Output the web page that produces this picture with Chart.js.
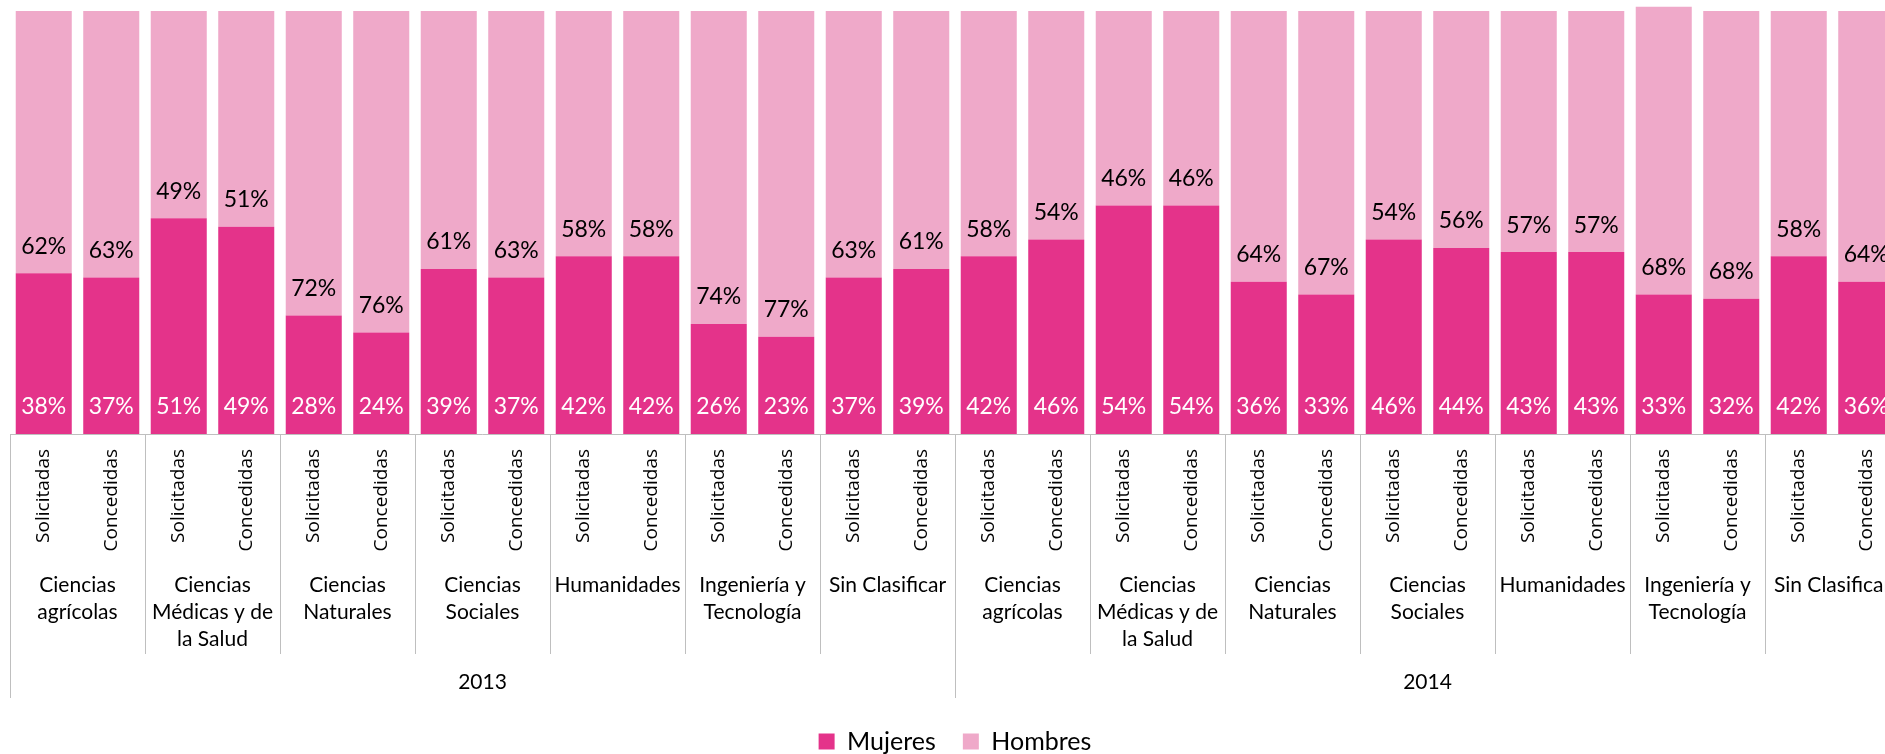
<!DOCTYPE html>
<html>
<head>
<meta charset="utf-8">
<script src="https://cdn.jsdelivr.net/npm/chart.js@4.4.1/dist/chart.umd.min.js"></script>
<style>
  html, body { margin: 0; padding: 0; background: #fff; overflow: hidden; }
  #wrap { position: relative; width: 1912px; height: 754px; }
</style>
</head>
<body>
<div id="wrap"><canvas id="becas"></canvas></div>
<script>
const years = ['2013', '2014'];
const areas = [
  ['Ciencias', 'agrícolas'],
  ['Ciencias', 'Médicas y de', 'la Salud'],
  ['Ciencias', 'Naturales'],
  ['Ciencias', 'Sociales'],
  ['Humanidades'],
  ['Ingeniería y', 'Tecnología'],
  ['Sin Clasificar']
];
const tipos = ['Solicitadas', 'Concedidas'];

// % por año, área y tipo (Solicitadas, Concedidas)
const mujeres = [38, 37, 51, 49, 28, 24, 39, 37, 42, 42, 26, 23, 37, 39,
                 42, 46, 54, 54, 36, 33, 46, 44, 43, 43, 33, 32, 42, 36];
const hombres = [62, 63, 49, 51, 72, 76, 61, 63, 58, 58, 74, 77, 63, 61,
                 58, 54, 46, 46, 64, 67, 54, 56, 57, 57, 68, 68, 58, 64];

const labels = [];
years.forEach(() => areas.forEach(() => tipos.forEach(t => labels.push(t))));

const lineColor = '#bfbfbf';

// porcentajes dentro de cada segmento, cerca de su base
const etiquetas = {
  id: 'etiquetas',
  afterDatasetsDraw(chart) {
    const ctx = chart.ctx;
    ctx.save();
    ctx.font = '23px Lato';
    ctx.textAlign = 'center';
    ctx.textBaseline = 'middle';
    chart.data.datasets.forEach((ds, i) => {
      ctx.fillStyle = ds.labelColor;
      chart.getDatasetMeta(i).data.forEach((bar, j) => {
        ctx.fillText(ds.data[j] + '%', bar.x, bar.base - 27);
      });
    });
    ctx.restore();
  },
  // áreas y años debajo del eje
  afterDraw(chart) {
    const x = chart.scales.x;
    const ctx = chart.ctx;
    const paso = x.getPixelForValue(1) - x.getPixelForValue(0);
    const top = chart.chartArea.bottom;
    const n = tipos.length;
    ctx.save();
    ctx.strokeStyle = lineColor;
    ctx.lineWidth = 1;
    ctx.fillStyle = '#000';
    ctx.font = '21px Lato';
    ctx.textAlign = 'center';
    ctx.textBaseline = 'middle';
    years.forEach((yr, yi) => {
      areas.forEach((area, ai) => {
        const i0 = (yi * areas.length + ai) * n;
        const left = x.getPixelForValue(i0) - paso / 2;
        const right = x.getPixelForValue(i0 + n - 1) + paso / 2;
        const largo = ai === 0 ? 264 : 220;
        const lx = Math.round(left) + 0.5;
        ctx.beginPath();
        ctx.moveTo(lx, top);
        ctx.lineTo(lx, top + largo);
        ctx.stroke();
        area.forEach((linea, k) => {
          ctx.fillText(linea, (left + right) / 2, top + 151 + k * 27);
        });
      });
      const a = x.getPixelForValue(yi * areas.length * n) - paso / 2;
      const b = x.getPixelForValue((yi + 1) * areas.length * n - 1) + paso / 2;
      ctx.fillText(yr, (a + b) / 2, top + 248);
    });
    const fin = Math.round(x.getPixelForValue(labels.length - 1) + paso / 2) + 0.5;
    ctx.beginPath();
    ctx.moveTo(fin, top);
    ctx.lineTo(fin, top + 264);
    ctx.stroke();
    ctx.restore();
  }
};

const data = {
  labels: labels,
  datasets: [
    {
      label: 'Mujeres',
      data: mujeres,
      backgroundColor: '#e4338a',
      labelColor: '#ffffff',
      clip: false
    },
    {
      label: 'Hombres',
      data: hombres,
      backgroundColor: '#efa9c9',
      labelColor: '#000000',
      clip: false
    }
  ]
};

Chart.defaults.font.family = 'Lato';
Chart.defaults.color = '#000';

new Chart(document.getElementById('becas'), {
  type: 'bar',
  data: data,
  plugins: [etiquetas],
  options: {
    responsive: true,
    maintainAspectRatio: false,
    animation: false,
    categoryPercentage: 1,
    barPercentage: 0.83,
    layout: { padding: { left: 10, right: 12, top: 11, bottom: -10 } },
    plugins: {
      legend: {
        position: 'bottom',
        labels: {
          boxWidth: 16,
          boxHeight: 16,
          padding: 27,
          font: { size: 25 }
        }
      },
      tooltip: { enabled: false }
    },
    scales: {
      x: {
        stacked: true,
        grid: { display: false, drawTicks: true, tickLength: 12 },
        border: { display: true, color: lineColor, width: 1 },
        ticks: {
          autoSkip: false,
          minRotation: 90,
          maxRotation: 90,
          padding: 3,
          font: { family: 'Open Sans', size: 19 }
        },
        afterFit(scale) { scale.height = 268; }
      },
      y: {
        stacked: true,
        display: false,
        min: 0,
        max: 100
      }
    }
  }
});
</script>
</body>
</html>
